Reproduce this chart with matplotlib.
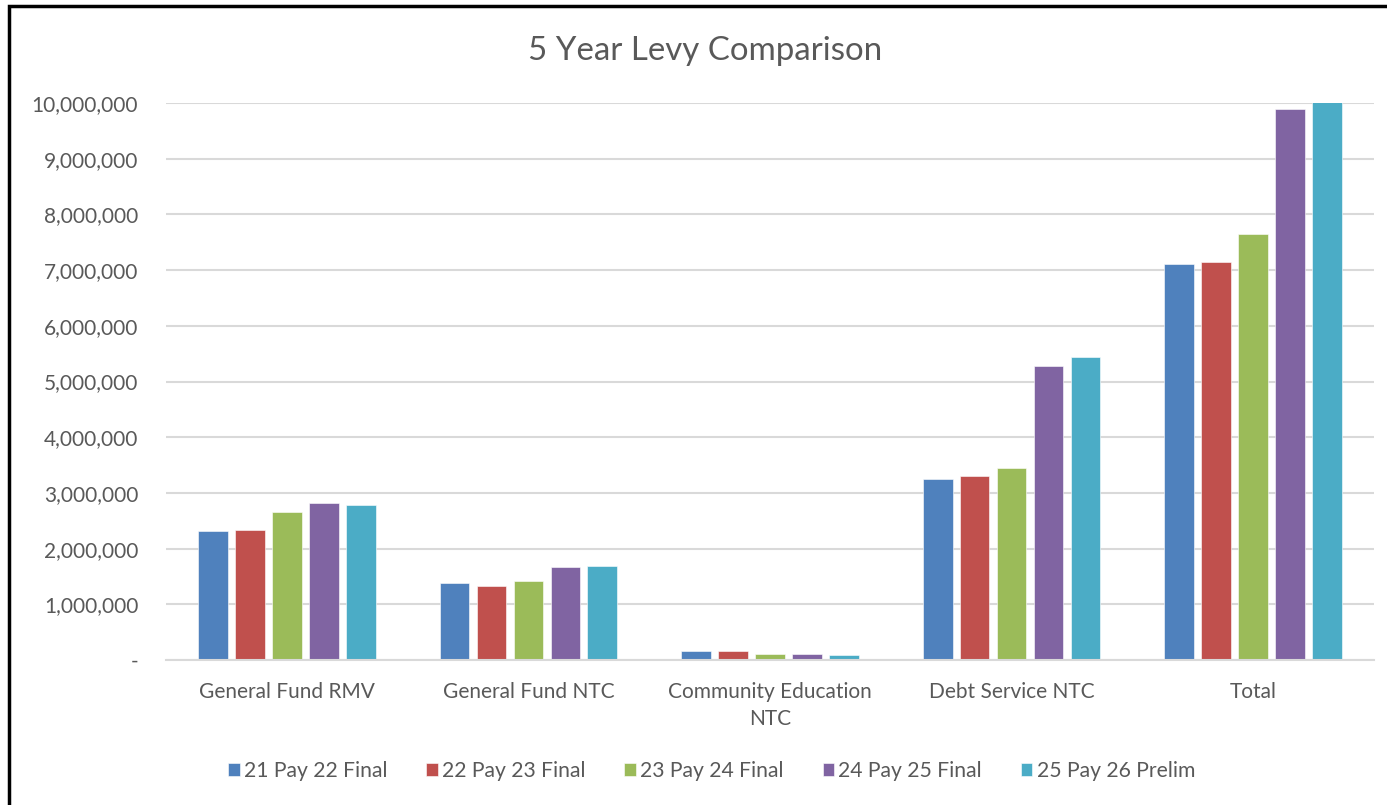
import matplotlib
matplotlib.use('Agg')
import matplotlib.pyplot as plt
import matplotlib.ticker as mticker
from matplotlib.patches import Rectangle
import numpy as np

plt.rcParams['font.family'] = ['Lato', 'DejaVu Sans']

categories = ['General Fund RMV', 'General Fund NTC', 'Community Education\nNTC',
              'Debt Service NTC', 'Total']
series = ['21 Pay 22 Final', '22 Pay 23 Final', '23 Pay 24 Final',
          '24 Pay 25 Final', '25 Pay 26 Prelim']
levy_21_22 = [2316000, 1377000, 155000, 3250000, 7110000]
levy_22_23 = [2340000, 1320000, 160000, 3300000, 7150000]
levy_23_24 = [2660000, 1420000, 113000, 3450000, 7650000]
levy_24_25 = [2820000, 1670000, 113000, 5280000, 9900000]
levy_25_26 = [2780000, 1690000, 95000, 5440000, 10100000]
values = [levy_21_22, levy_22_23, levy_23_24, levy_24_25, levy_25_26]
colors = ['#4f81bd', '#c0504d', '#9bbb59', '#8064a2', '#4bacc6']

text_color = '#595959'
grid_color = '#d9d9d9'

fig = plt.figure(figsize=(13.87, 8.05), dpi=100)
ax = fig.add_axes([0.1197, 0.1801, 0.8709, 0.6919])

x = np.arange(len(categories))
slot = 0.153
width = 0.123
for i, (name, vals, c) in enumerate(zip(series, values, colors)):
    offset = (i - 2) * slot
    ax.bar(x + offset, vals, width=width, color=c, label=name, zorder=3,
           edgecolor='white', linewidth=0.4)

ax.set_xlim(-0.5, len(categories) - 0.5)
ax.set_ylim(0, 10000000)
ax.yaxis.set_major_locator(mticker.MultipleLocator(1000000))
ax.yaxis.set_major_formatter(mticker.FuncFormatter(
    lambda v, p: '-' if v == 0 else f'{v:,.0f}'))
ax.grid(axis='y', color=grid_color, linewidth=1.5, zorder=0)
ax.set_axisbelow(True)

for side in ['top', 'right', 'left']:
    ax.spines[side].set_visible(False)
ax.spines['bottom'].set_color(grid_color)
ax.spines['bottom'].set_linewidth(1.5)
ax.spines['bottom'].set_zorder(4)

ax.set_xticks(x)
ax.set_xticklabels(categories, linespacing=1.45)
ax.tick_params(axis='both', length=0, colors=text_color, labelsize=15)
ax.tick_params(axis='y', pad=20)
ax.tick_params(axis='x', pad=16)

fig.text(0.508, 0.937, '5 Year Levy Comparison', ha='center', va='center',
         fontsize=23.8, color=text_color)

leg = fig.legend(loc='center', bbox_to_anchor=(0.513, 0.042), ncol=5,
                 frameon=False, fontsize=15.2, handlelength=0.55, handleheight=0.55,
                 handletextpad=0.2, columnspacing=1.84, labelcolor=text_color)

# chart frame
fig.patches.append(Rectangle((9 / 1387, -0.05), 1.1, 1.05 - 6 / 805,
                             transform=fig.transFigure, fill=False,
                             edgecolor='black', linewidth=2.5, zorder=10))

fig.savefig('out.png', dpi=100, facecolor='white')
